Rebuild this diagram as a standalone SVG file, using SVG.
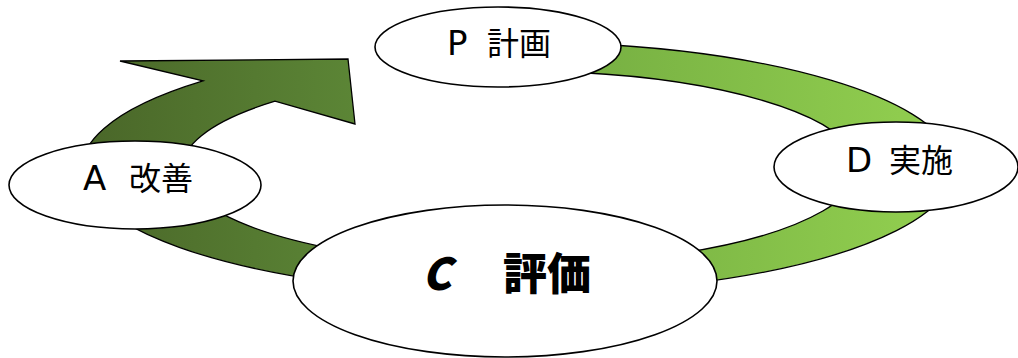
<svg xmlns="http://www.w3.org/2000/svg" width="1018" height="358" viewBox="0 0 1018 358">
  <defs>
    <linearGradient id="gradDark" gradientUnits="userSpaceOnUse" x1="90" y1="0" x2="360" y2="0">
      <stop offset="0" stop-color="#4A6729"/>
      <stop offset="1" stop-color="#5C8636"/>
    </linearGradient>
    <linearGradient id="gradLight" gradientUnits="userSpaceOnUse" x1="600" y1="0" x2="900" y2="0">
      <stop offset="0" stop-color="#78B143"/>
      <stop offset="1" stop-color="#8FCC4E"/>
    </linearGradient>
    <style>
      .band { stroke: #000; stroke-width: 1.3; stroke-linejoin: miter; }
      .node { fill: #fff; stroke: #000; stroke-width: 1.6; }
      .label { font-family: "Noto Sans CJK JP", "Noto Sans", sans-serif; font-size: 32px; fill: #000; }
      .latin { font-family: "DejaVu Sans", "Noto Sans CJK JP", sans-serif; font-size: 34px; }
      .big { font-family: "Noto Sans CJK JP", "Noto Sans", sans-serif; font-size: 44px; font-weight: 900; fill: #000; }
    </style>
  </defs>

  <!-- cycle bands -->
  <g id="connectors">
    <!-- P -> D -> C -->
    <path class="band" fill="url(#gradLight)"
          d="M 585 43.5 A 436 126 0 0 1 690 283.8 L 680 253.4 A 338 97 0 0 0 580 72.5 Z"/>
    <!-- C -> A -> arrowhead toward P -->
    <path class="band" fill="url(#gradDark)"
          d="M 330 281.7 A 436 126 0 0 1 203 80.9 L 120 61 L 348 59 L 355 124 L 275 101.2 A 338 97 0 0 0 340 250.1 Z"/>
  </g>

  <g id="node-p">
    <ellipse class="node" cx="498" cy="47" rx="123" ry="40"/>
    <text class="label" y="55"><tspan class="latin" x="447">P</tspan><tspan x="487">計画</tspan></text>
  </g>

  <g id="node-d">
    <ellipse class="node" cx="896" cy="167" rx="122" ry="45"/>
    <text class="label" y="172"><tspan class="latin" x="846">D</tspan><tspan x="889">実施</tspan></text>
  </g>

  <g id="node-a">
    <ellipse class="node" cx="135" cy="185" rx="126" ry="44"/>
    <text class="label" y="190"><tspan class="latin" x="83">A</tspan><tspan x="129">改善</tspan></text>
  </g>

  <g id="node-c">
    <ellipse class="node" cx="505" cy="281" rx="212" ry="76"/>
    <text class="big" y="290"><tspan x="422" font-style="italic">C</tspan><tspan x="503">評価</tspan></text>
  </g>
</svg>
